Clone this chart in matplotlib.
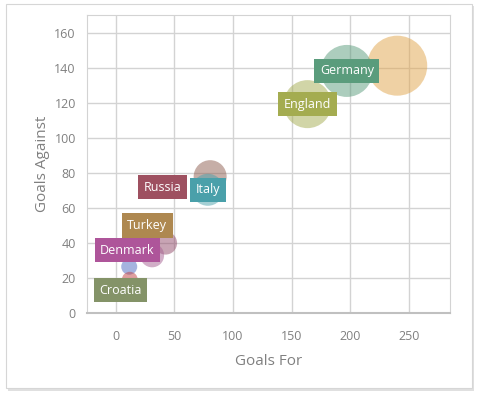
import matplotlib
matplotlib.use("Agg")
import matplotlib.pyplot as plt
from matplotlib.patches import Rectangle

plt.rcParams['font.family'] = ['Open Sans', 'DejaVu Sans']

# datos de las burbujas (goles a favor, goles en contra, peso)
nombres = ['', 'Germany', 'England', '', 'Italy', 'Russia', 'Turkey', '', 'Denmark', '', '', '', 'Croatia']
goles_favor = [240, 197, 163.5, 80.5, 78.5, 40, 27, 42.5, 10, 31, 11.5, 12, 4]
goles_contra = [141.5, 138.5, 119.5, 78, 70.5, 72, 50, 40, 36, 33, 26.5, 19, 13]
peso = [30, 26, 24, 16.5, 16, 9, 9, 11.5, 10, 12, 8, 8, 7]
colores = ['#e1a54b', '#5a9c7c', '#a4ac50', '#8f5f51', '#4aa0aa', '#9e5060', '#ae8850',
           '#934b6b', '#ae559a', '#a55f91', '#4d69c1', '#c14141', '#849368']

W, H = 479, 397
fig = plt.figure(figsize=(W / 100, H / 100), dpi=100)

# marco con sombra
fig.patches.append(Rectangle((8 / W, 1 - 391 / H), 466 / W, 385 / H, transform=fig.transFigure,
                             facecolor='#e0e0e0', edgecolor='none', zorder=0))
fig.patches.append(Rectangle((6 / W, 1 - 388 / H), 466 / W, 384 / H, transform=fig.transFigure,
                             facecolor='white', edgecolor='#d6d6d6', linewidth=0.8, zorder=1))

ax = fig.add_axes([87 / W, 1 - 313 / H, 363 / W, 298 / H])
ax.set_zorder(2)

tamanos = [(2 * p * 0.72) ** 2 for p in peso]
ax.scatter(goles_favor, goles_contra, s=tamanos, c=colores, alpha=0.5, edgecolors='none', zorder=3)

for n, x, y, c in zip(nombres, goles_favor, goles_contra, colores):
    if n:
        ax.text(x, y, n, color='white', fontsize=9, ha='center', va='center', zorder=5,
                bbox=dict(boxstyle='square,pad=0.45', facecolor=c, edgecolor='none'))

ax.set_xlim(-24.5, 285)
ax.set_ylim(0, 170.5)
ax.set_xticks([0, 50, 100, 150, 200, 250])
ax.set_yticks([0, 20, 40, 60, 80, 100, 120, 140, 160])
ax.grid(True, color='#d3d3d3', linewidth=1)
ax.set_axisbelow(True)
for lado in ['left', 'top', 'right']:
    ax.spines[lado].set_color('#d3d3d3')
ax.spines['bottom'].set_color('#c0c0c0')
ax.spines['bottom'].set_linewidth(1.5)
ax.tick_params(length=0, labelcolor='#808080', labelsize=9)
ax.tick_params(axis='x', pad=12)
ax.tick_params(axis='y', pad=8)

ax.set_xlabel('Goals For', color='#808080', fontsize=11, labelpad=8)
ax.set_ylabel('Goals Against', color='#808080', fontsize=11, labelpad=3)

fig.savefig('out.png', dpi=100)
